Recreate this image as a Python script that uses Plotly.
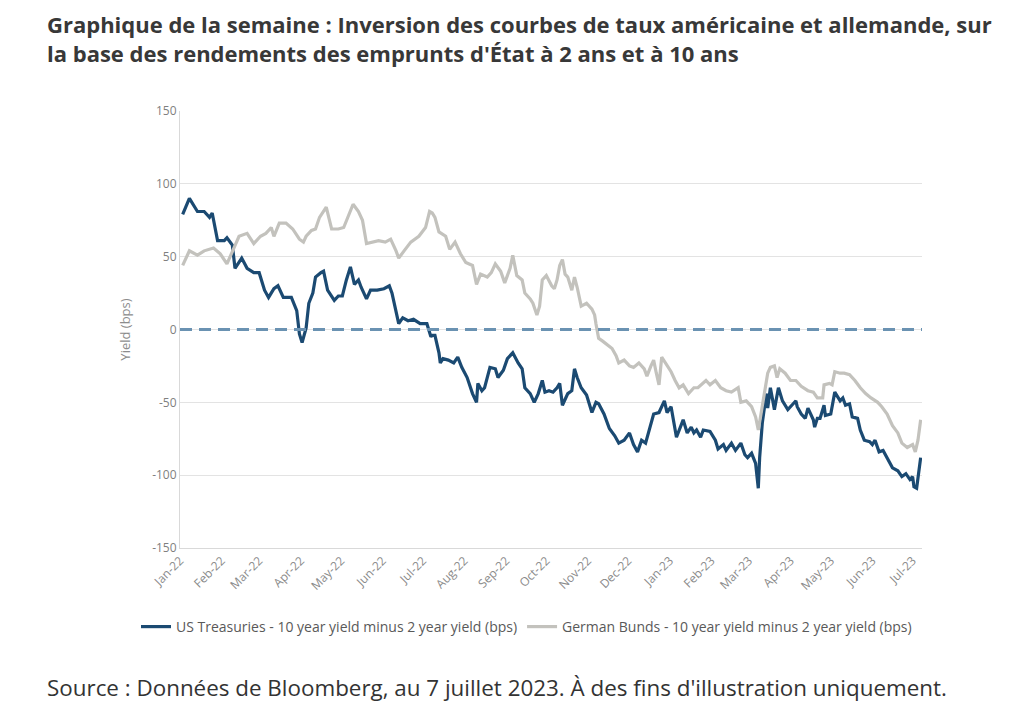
import plotly.graph_objects as go

# ---- Data ----
us_dates = [
    "2022-01-03", "2022-01-08", "2022-01-14", "2022-01-19", "2022-01-23", "2022-01-25", "2022-01-29",
    "2022-02-03", "2022-02-05", "2022-02-09", "2022-02-11", "2022-02-16", "2022-02-20", "2022-02-25",
    "2022-03-01", "2022-03-05", "2022-03-08", "2022-03-12", "2022-03-15", "2022-03-19", "2022-03-25",
    "2022-03-29", "2022-03-31", "2022-04-02", "2022-04-05", "2022-04-07", "2022-04-10", "2022-04-12",
    "2022-04-16", "2022-04-18", "2022-04-21", "2022-04-24", "2022-04-26", "2022-04-29", "2022-05-02",
    "2022-05-05", "2022-05-08", "2022-05-11", "2022-05-14", "2022-05-16", "2022-05-20", "2022-05-23",
    "2022-05-28", "2022-06-02", "2022-06-06", "2022-06-08", "2022-06-11", "2022-06-13", "2022-06-16",
    "2022-06-20", "2022-06-24", "2022-06-29", "2022-07-04", "2022-07-07", "2022-07-08", "2022-07-10",
    "2022-07-13", "2022-07-14", "2022-07-16", "2022-07-20", "2022-07-24", "2022-07-27", "2022-07-30",
    "2022-08-03", "2022-08-07", "2022-08-10", "2022-08-11", "2022-08-14", "2022-08-16", "2022-08-20",
    "2022-08-24", "2022-08-26", "2022-08-30", "2022-09-02", "2022-09-06", "2022-09-10", "2022-09-13",
    "2022-09-15", "2022-09-19", "2022-09-22", "2022-09-25", "2022-09-28", "2022-09-30", "2022-10-03",
    "2022-10-06", "2022-10-09", "2022-10-11", "2022-10-13", "2022-10-17", "2022-10-20", "2022-10-22",
    "2022-10-24", "2022-10-27", "2022-10-31", "2022-11-04", "2022-11-07", "2022-11-09", "2022-11-13",
    "2022-11-17", "2022-11-21", "2022-11-24", "2022-11-28", "2022-12-02", "2022-12-05", "2022-12-08",
    "2022-12-11", "2022-12-14", "2022-12-16", "2022-12-20", "2022-12-24", "2022-12-28", "2022-12-30",
    "2023-01-02", "2023-01-06", "2023-01-09", "2023-01-11", "2023-01-14", "2023-01-17", "2023-01-19",
    "2023-01-21", "2023-01-24", "2023-01-26", "2023-01-31", "2023-02-04", "2023-02-06", "2023-02-10",
    "2023-02-12", "2023-02-16", "2023-02-19", "2023-02-23", "2023-02-26", "2023-02-28", "2023-03-03",
    "2023-03-06", "2023-03-08", "2023-03-09", "2023-03-11", "2023-03-14", "2023-03-15", "2023-03-17",
    "2023-03-20", "2023-03-23", "2023-03-26", "2023-03-30", "2023-04-03", "2023-04-05", "2023-04-06",
    "2023-04-09", "2023-04-12", "2023-04-14", "2023-04-18", "2023-04-19", "2023-04-21", "2023-04-23",
    "2023-04-26", "2023-04-27", "2023-05-01", "2023-05-04", "2023-05-08", "2023-05-10", "2023-05-12",
    "2023-05-15", "2023-05-17", "2023-05-21", "2023-05-23", "2023-05-26", "2023-05-30", "2023-06-01",
    "2023-06-03", "2023-06-06", "2023-06-09", "2023-06-12", "2023-06-16", "2023-06-20", "2023-06-23",
    "2023-06-26", "2023-06-29", "2023-07-01", "2023-07-02", "2023-07-04", "2023-07-07",
]
us_values = [
    79, 90, 81, 81, 77, 80, 61,
    61, 63, 58, 42, 49, 42, 39,
    39, 27, 22, 28, 30, 22, 22,
    13, -3, -9, 1, 18, 25, 36,
    39, 40, 27, 23, 20, 23, 23,
    34, 43, 31, 34, 29, 21, 27,
    27, 28, 30, 25, 11, 4, 8,
    6, 7, 4, 4, -5, -4, -4,
    -16, -23, -20, -21, -23, -19, -26,
    -33, -44, -50, -37, -42, -40, -26,
    -27, -33, -28, -20, -16, -23, -27,
    -40, -44, -50, -44, -35, -43, -42,
    -43, -40, -37, -52, -44, -42, -27,
    -33, -40, -45, -57, -50, -51, -58,
    -68, -73, -78, -76, -71, -79, -84,
    -76, -78, -71, -58, -57, -49, -57,
    -53, -74, -67, -62, -71, -67, -71,
    -69, -74, -69, -70, -76, -82, -79,
    -83, -78, -83, -78, -86, -88, -85,
    -92, -109, -88, -64, -44, -54, -40,
    -55, -40, -49, -55, -51, -49, -53,
    -58, -61, -54, -62, -67, -61, -61,
    -52, -59, -58, -43, -49, -47, -52,
    -51, -60, -61, -69, -76, -77, -79,
    -76, -84, -83, -88, -95, -97, -101,
    -99, -103, -101, -108, -109, -88,
]

de_dates = [
    "2022-01-03", "2022-01-08", "2022-01-14", "2022-01-19", "2022-01-26", "2022-01-31", "2022-02-05",
    "2022-02-09", "2022-02-14", "2022-02-20", "2022-02-25", "2022-03-02", "2022-03-06", "2022-03-10",
    "2022-03-12", "2022-03-16", "2022-03-21", "2022-03-26", "2022-03-31", "2022-04-03", "2022-04-05",
    "2022-04-09", "2022-04-12", "2022-04-15", "2022-04-20", "2022-04-24", "2022-04-29", "2022-05-03",
    "2022-05-06", "2022-05-10", "2022-05-14", "2022-05-17", "2022-05-20", "2022-05-25", "2022-05-29",
    "2022-06-03", "2022-06-07", "2022-06-11", "2022-06-13", "2022-06-17", "2022-06-22", "2022-06-28",
    "2022-07-03", "2022-07-06", "2022-07-08", "2022-07-10", "2022-07-13", "2022-07-18", "2022-07-21",
    "2022-07-25", "2022-07-29", "2022-08-02", "2022-08-07", "2022-08-10", "2022-08-13", "2022-08-18",
    "2022-08-21", "2022-08-24", "2022-08-28", "2022-08-31", "2022-09-04", "2022-09-06", "2022-09-09",
    "2022-09-13", "2022-09-15", "2022-09-19", "2022-09-21", "2022-09-24", "2022-09-26", "2022-09-28",
    "2022-10-01", "2022-10-05", "2022-10-07", "2022-10-09", "2022-10-11", "2022-10-13", "2022-10-15",
    "2022-10-17", "2022-10-20", "2022-10-22", "2022-10-24", "2022-10-27", "2022-10-31", "2022-11-04",
    "2022-11-06", "2022-11-07", "2022-11-09", "2022-11-12", "2022-11-15", "2022-11-19", "2022-11-22",
    "2022-11-24", "2022-11-28", "2022-12-02", "2022-12-05", "2022-12-09", "2022-12-13", "2022-12-15",
    "2022-12-18", "2022-12-20", "2022-12-22", "2022-12-24", "2022-12-26", "2022-12-29", "2023-01-02",
    "2023-01-05", "2023-01-08", "2023-01-11", "2023-01-15", "2023-01-19", "2023-01-22", "2023-01-28",
    "2023-01-31", "2023-02-04", "2023-02-08", "2023-02-12", "2023-02-16", "2023-02-21", "2023-02-23",
    "2023-02-27", "2023-03-03", "2023-03-06", "2023-03-08", "2023-03-10", "2023-03-13", "2023-03-15",
    "2023-03-17", "2023-03-20", "2023-03-22", "2023-03-24", "2023-03-28", "2023-04-01", "2023-04-05",
    "2023-04-09", "2023-04-14", "2023-04-18", "2023-04-21", "2023-04-25", "2023-04-26", "2023-04-30",
    "2023-05-02", "2023-05-04", "2023-05-08", "2023-05-11", "2023-05-15", "2023-05-19", "2023-05-23",
    "2023-05-27", "2023-05-31", "2023-06-05", "2023-06-08", "2023-06-12", "2023-06-16", "2023-06-20",
    "2023-06-23", "2023-06-27", "2023-07-01", "2023-07-03", "2023-07-05", "2023-07-07",
]
de_values = [
    44, 54, 51, 54, 56, 52, 45,
    53, 64, 66, 59, 64, 66, 70,
    64, 73, 73, 69, 62, 60, 64,
    68, 69, 77, 84, 69, 69, 70,
    77, 86, 81, 75, 59, 60, 61,
    60, 62, 54, 49, 54, 60, 64,
    70, 81, 80, 77, 67, 64, 55,
    60, 52, 46, 44, 31, 38, 36,
    39, 45, 40, 32, 42, 51, 37,
    34, 25, 21, 18, 10, 16, 34,
    37, 30, 28, 34, 44, 48, 38,
    36, 27, 36, 29, 16, 18, 14,
    10, 4, -6, -8, -10, -13, -18,
    -23, -21, -25, -26, -23, -27, -32,
    -25, -21, -30, -38, -19, -23, -29,
    -35, -40, -38, -44, -40, -40, -35,
    -38, -35, -40, -42, -43, -40, -50,
    -49, -53, -60, -69, -58, -42, -30,
    -26, -25, -33, -27, -30, -35, -35,
    -39, -42, -43, -47, -47, -38, -37,
    -38, -29, -30, -30, -31, -35, -40,
    -44, -47, -50, -53, -58, -66, -71,
    -78, -81, -79, -84, -76, -62,
]

y_ticks = [-150, -100, -50, 0, 50, 100, 150]
y_tick_labels = ["-150", "-100", "-50", "0", "50", "100", "150"]

us_name = "US Treasuries - 10 year yield minus 2 year yield (bps)"
de_name = "German Bunds - 10 year yield minus 2 year yield (bps)"

title_text = ("<b>Graphique de la semaine : Inversion des courbes de taux américaine et allemande, sur"
              "<br>la base des rendements des emprunts d'État à 2 ans et à 10 ans</b>")
source_text = "Source : Données de Bloomberg, au 7 juillet 2023. À des fins d'illustration uniquement."

FONT = "Open Sans, Roboto, sans-serif"

# ---- Figure ----
fig = go.Figure()
fig.add_trace(go.Scatter(x=us_dates, y=us_values, mode="lines", name=us_name,
                         line=dict(color="#1b4a72", width=3.2)))
fig.add_trace(go.Scatter(x=de_dates, y=de_values, mode="lines", name=de_name,
                         line=dict(color="#c3c2bd", width=3.2)))

# zero reference line (dashed)
fig.add_shape(type="line", xref="paper", x0=0, x1=1, yref="y", y0=0, y1=0,
              line=dict(color="#6a92b2", width=3, dash="12px,7px"), layer="above")

OFF = 8  # page body margin of the html output
PL, PT, PW, PH = 180 - OFF, 111 - OFF, 742, 437  # plot area in pixels
W, H = 1024, 718


def px_x(x):
    return (x - OFF - PL) / PW


def px_y(y):
    return (PT + PH - (y - OFF)) / PH


fig.update_layout(
    width=W, height=H,
    margin=dict(l=PL, r=W - PL - PW, t=PT, b=H - PT - PH, autoexpand=False),
    paper_bgcolor="white", plot_bgcolor="white",
    font=dict(family=FONT, color="#7f7f7f"),
    showlegend=True,
    legend=dict(orientation="h", x=px_x(136), xanchor="left",
                y=px_y(627), yanchor="middle",
                font=dict(family=FONT, size=14, color="#595959"), itemwidth=30, tracegroupgap=0,
                bgcolor="rgba(0,0,0,0)"),
    xaxis=dict(type="date", range=["2022-01-01", "2023-07-08"], tick0="2022-01-01", dtick="M1",
               tickformat="%b-%y", tickangle=-45, showgrid=False, zeroline=False,
               showline=True, linecolor="#d9d9d9", linewidth=1, automargin=False,
               tickfont=dict(family=FONT, size=12, color="#8a8a8a"), ticks=""),
    yaxis=dict(range=[-150, 150], tickvals=y_ticks, ticktext=y_tick_labels, showgrid=True,
               gridcolor="#e3e3e3", gridwidth=1, zeroline=False, showline=True,
               linecolor="#d9d9d9", linewidth=1,
               automargin=False, tickfont=dict(family=FONT, size=12, color="#7f7f7f"), ticks="",
               title=dict(text="Yield (bps)", font=dict(family=FONT, size=13, color="#8c8c8c"),
                          standoff=18)),
)

fig.add_annotation(text=title_text, xref="paper", yref="paper",
                   x=px_x(45), y=px_y(7), xanchor="left", yanchor="top",
                   align="left", showarrow=False,
                   font=dict(family=FONT, size=22, color="#383838"))

fig.add_annotation(text=source_text, xref="paper", yref="paper",
                   x=px_x(45), y=px_y(687), xanchor="left", yanchor="middle",
                   showarrow=False, font=dict(family=FONT, size=22.4, color="#333333"))

fig.write_html("out.html")
